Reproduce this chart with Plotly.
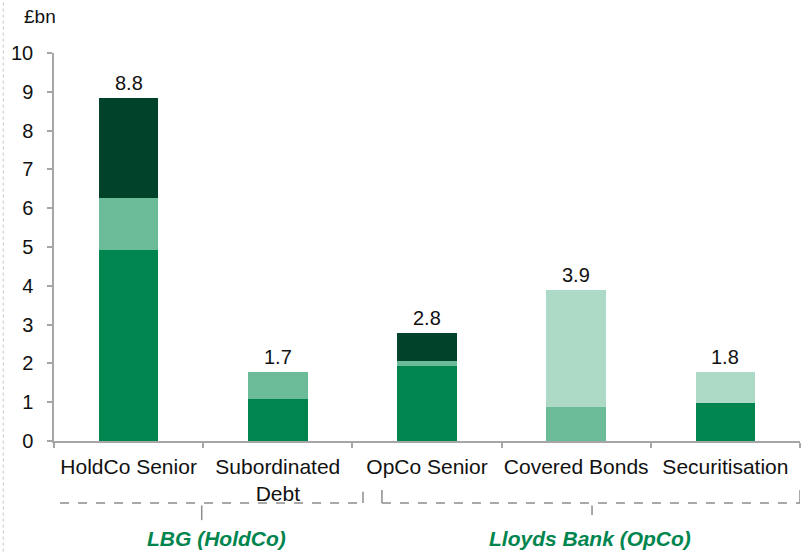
import plotly.graph_objects as go

# categories and stacked segments (£bn)
categories = ["HoldCo Senior", "Subordinated<br>Debt", "OpCo Senior", "Covered Bonds", "Securitisation"]
seg_main = [4.92, 1.08, 1.94, 0.0, 0.98]
seg_mid = [1.35, 0.69, 0.12, 0.88, 0.0]
seg_dark = [2.57, 0.0, 0.72, 0.0, 0.0]
seg_light = [0.0, 0.0, 0.0, 3.01, 0.80]
total_labels = ["8.8", "1.7", "2.8", "3.9", "1.8"]

groups = ["LBG (HoldCo)", "Lloyds Bank (OpCo)"]

green = "#00854f"
axis_grey = "#a6a6a6"
font_fam = "Liberation Sans, Arial, sans-serif"

fig = go.Figure()
for vals, col in [(seg_main, green), (seg_mid, "#6bbb99"),
                  (seg_dark, "#00432a"), (seg_light, "#acdac6")]:
    fig.add_trace(go.Bar(x=categories, y=vals, marker=dict(color=col, line=dict(width=0)),
                         width=0.4, showlegend=False, hoverinfo="skip"))

totals = [a + b + c + d for a, b, c, d in zip(seg_main, seg_mid, seg_dark, seg_light)]
for i, (t, lab) in enumerate(zip(totals, total_labels)):
    fig.add_annotation(x=i, y=t, text=lab, showarrow=False, yanchor="bottom", yshift=2,
                       font=dict(size=20, color="#111111"))

# "£bn" unit label
fig.add_annotation(xref="paper", yref="paper", x=-0.043, y=1.093, text="£bn",
                   showarrow=False, xanchor="left", yanchor="middle",
                   font=dict(size=19, color="#111111"))

# group brackets under the category labels: (left, right, centre tick, label x, tick top, tick bottom)
dash = dict(color="#8c8c8c", width=1.5, dash="dash")
solid = dict(color="#8c8c8c", width=1.5)
brackets = [(-0.58, 1.571, 0.49, 0.59, -0.131, -0.204), (1.698, 4.5, 3.106, 3.09, -0.126, -0.191)]
for (x0, x1, xc, xl, ytop, ybot), name in zip(brackets, groups):
    fig.add_shape(type="line", xref="x", yref="paper", x0=x0, x1=x1, y0=-0.160, y1=-0.160, line=dash)
    fig.add_shape(type="line", xref="x", yref="paper", x0=x0, x1=x0, y0=ytop, y1=-0.160, line=solid)
    fig.add_shape(type="line", xref="x", yref="paper", x0=x1, x1=x1, y0=ytop, y1=-0.160, line=solid)
    fig.add_shape(type="line", xref="x", yref="paper", x0=xc, x1=xc, y0=-0.166, y1=ybot, line=solid)
    fig.add_annotation(x=xl, xref="x", yref="paper", y=-0.25, text="<b><i>%s</i></b>" % name,
                       showarrow=False, yanchor="middle", font=dict(size=21, color=green))

# faint dotted border at the left edge
fig.add_shape(type="line", xref="paper", yref="paper", x0=-0.068, x1=-0.068, y0=-0.285, y1=1.136,
              line=dict(color="#c8c8c8", width=1, dash="dot"))

fig.update_layout(
    width=808, height=552,
    margin=dict(l=54, r=8, t=53, b=111),
    barmode="stack",
    plot_bgcolor="white", paper_bgcolor="white",
    font=dict(family=font_fam, color="#111111"),
    xaxis=dict(range=[-0.5, 4.5], autorange=False,
               showline=True, linecolor=axis_grey, linewidth=1.5, ticks="outside",
               tickson="boundaries", ticklen=5, tickcolor=axis_grey, tickwidth=1.5,
               tickangle=0, automargin=False, ticklabelstandoff=6,
               tickfont=dict(size=21), showgrid=False),
    yaxis=dict(range=[0, 10], dtick=1, showline=True, linecolor=axis_grey, linewidth=1.5,
               ticks="outside", ticklen=5, tickcolor=axis_grey, tickwidth=1.5,
               tickfont=dict(size=20), showgrid=False, zeroline=False, automargin=False,
               ticklabelstandoff=10),
)

# page body has a default 8px margin; drop it so the figure fills the window
fig.write_html("out.html", config={"displayModeBar": False},
               post_script="document.body.style.margin='0';")
